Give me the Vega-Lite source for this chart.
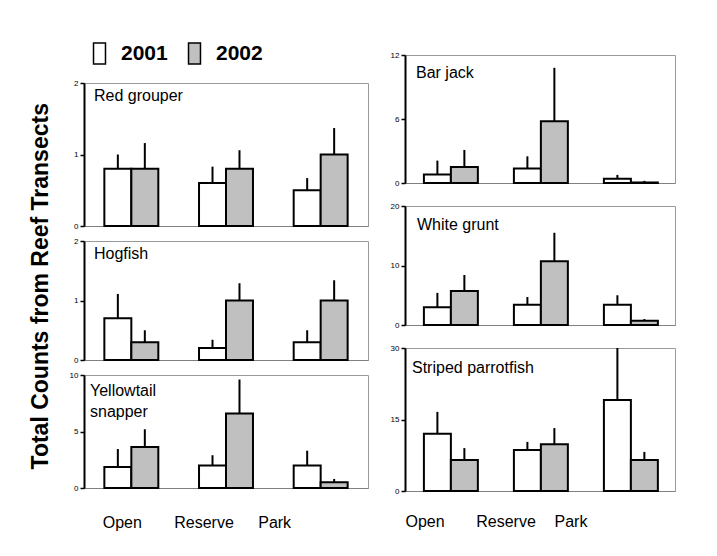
{
  "$schema": "https://vega.github.io/schema/vega-lite/v6.json",
  "background": "white",
  "padding": {"left": 29, "top": 42, "right": 20, "bottom": 20},
  "title": {"text": "Total Counts from Reef Transects", "orient": "left", "anchor": "middle", "frame": "bounds", "fontSize": 23, "fontWeight": "bold", "font": "Liberation Sans", "color": "black", "offset": -7, "baseline": "bottom"},
  "datasets": {
    "fish": [
      {"species": "Red grouper", "site": "Open", "year": "2001", "value": 0.8, "upper": 1.0},
      {"species": "Red grouper", "site": "Open", "year": "2002", "value": 0.8, "upper": 1.16},
      {"species": "Red grouper", "site": "Reserve", "year": "2001", "value": 0.6, "upper": 0.83},
      {"species": "Red grouper", "site": "Reserve", "year": "2002", "value": 0.8, "upper": 1.06},
      {"species": "Red grouper", "site": "Park", "year": "2001", "value": 0.5, "upper": 0.67},
      {"species": "Red grouper", "site": "Park", "year": "2002", "value": 1.0, "upper": 1.37},
      {"species": "Hogfish", "site": "Open", "year": "2001", "value": 0.7, "upper": 1.11},
      {"species": "Hogfish", "site": "Open", "year": "2002", "value": 0.3, "upper": 0.5},
      {"species": "Hogfish", "site": "Reserve", "year": "2001", "value": 0.2, "upper": 0.34},
      {"species": "Hogfish", "site": "Reserve", "year": "2002", "value": 1.0, "upper": 1.29},
      {"species": "Hogfish", "site": "Park", "year": "2001", "value": 0.3, "upper": 0.5},
      {"species": "Hogfish", "site": "Park", "year": "2002", "value": 1.0, "upper": 1.34},
      {"species": "Yellowtail snapper", "site": "Open", "year": "2001", "value": 1.86, "upper": 3.45},
      {"species": "Yellowtail snapper", "site": "Open", "year": "2002", "value": 3.63, "upper": 5.2},
      {"species": "Yellowtail snapper", "site": "Reserve", "year": "2001", "value": 2.0, "upper": 2.9},
      {"species": "Yellowtail snapper", "site": "Reserve", "year": "2002", "value": 6.6, "upper": 9.6},
      {"species": "Yellowtail snapper", "site": "Park", "year": "2001", "value": 2.0, "upper": 3.3},
      {"species": "Yellowtail snapper", "site": "Park", "year": "2002", "value": 0.5, "upper": 0.8},
      {"species": "Bar jack", "site": "Open", "year": "2001", "value": 0.8, "upper": 2.1},
      {"species": "Bar jack", "site": "Open", "year": "2002", "value": 1.5, "upper": 3.1},
      {"species": "Bar jack", "site": "Reserve", "year": "2001", "value": 1.35, "upper": 2.5},
      {"species": "Bar jack", "site": "Reserve", "year": "2002", "value": 5.8, "upper": 10.8},
      {"species": "Bar jack", "site": "Park", "year": "2001", "value": 0.4, "upper": 0.76},
      {"species": "Bar jack", "site": "Park", "year": "2002", "value": 0.05, "upper": 0.2},
      {"species": "White grunt", "site": "Open", "year": "2001", "value": 3.0, "upper": 5.4},
      {"species": "White grunt", "site": "Open", "year": "2002", "value": 5.7, "upper": 8.4},
      {"species": "White grunt", "site": "Reserve", "year": "2001", "value": 3.4, "upper": 4.7},
      {"species": "White grunt", "site": "Reserve", "year": "2002", "value": 10.7, "upper": 15.5},
      {"species": "White grunt", "site": "Park", "year": "2001", "value": 3.4, "upper": 5.0},
      {"species": "White grunt", "site": "Park", "year": "2002", "value": 0.7, "upper": 1.0},
      {"species": "Striped parrotfish", "site": "Open", "year": "2001", "value": 12.0, "upper": 16.6},
      {"species": "Striped parrotfish", "site": "Open", "year": "2002", "value": 6.5, "upper": 9.0},
      {"species": "Striped parrotfish", "site": "Reserve", "year": "2001", "value": 8.6, "upper": 10.3},
      {"species": "Striped parrotfish", "site": "Reserve", "year": "2002", "value": 9.8, "upper": 13.2},
      {"species": "Striped parrotfish", "site": "Park", "year": "2001", "value": 19.1, "upper": 30},
      {"species": "Striped parrotfish", "site": "Park", "year": "2002", "value": 6.5, "upper": 8.2}
    ]
  },
  "spacing": 20,
  "hconcat": [
    {
      "bounds": "flush",
      "spacing": 15,
      "vconcat": [
        {"width": 284, "height": 13, "view": {"stroke": null}, "data": {"values": []}, "mark": "point"},
        {
          "width": 284, "height": 143,
          "title": {"text": "Red grouper", "dx": 10, "offset": -25},
          "data": {"name": "fish"},
          "transform": [{"filter": "datum.species === 'Red grouper'"}],
          "encoding": {
            "x": {"field": "site", "type": "nominal", "sort": ["Open", "Reserve", "Park"], "scale": {"paddingInner": 0.43, "paddingOuter": 0.215}, "axis": {"labels": false, "ticks": false, "title": null}},
            "xOffset": {"field": "year", "type": "nominal", "sort": ["2001", "2002"]}
          },
          "layer": [
            {"mark": {"type": "bar", "stroke": "black", "strokeWidth": 2},
             "encoding": {"y": {"field": "value", "type": "quantitative", "scale": {"domain": [0, 2], "nice": false}, "axis": {"values": [0, 1, 2]}},
                          "fill": {"field": "year", "type": "nominal", "scale": {"domain": ["2001", "2002"], "range": ["#ffffff", "#c0c0c0"]}}}},
            {"mark": {"type": "rule", "stroke": "black", "strokeWidth": 2},
             "encoding": {"y": {"field": "value", "type": "quantitative"}, "y2": {"field": "upper"}}}
          ]
        },
        {
          "width": 284, "height": 119,
          "title": {"text": "Hogfish", "dx": 10, "offset": -25},
          "data": {"name": "fish"},
          "transform": [{"filter": "datum.species === 'Hogfish'"}],
          "encoding": {
            "x": {"field": "site", "type": "nominal", "sort": ["Open", "Reserve", "Park"], "scale": {"paddingInner": 0.43, "paddingOuter": 0.215}, "axis": {"labels": false, "ticks": false, "title": null}},
            "xOffset": {"field": "year", "type": "nominal", "sort": ["2001", "2002"]}
          },
          "layer": [
            {"mark": {"type": "bar", "stroke": "black", "strokeWidth": 2},
             "encoding": {"y": {"field": "value", "type": "quantitative", "scale": {"domain": [0, 2], "nice": false}, "axis": {"values": [0, 1, 2]}},
                          "fill": {"field": "year", "type": "nominal", "scale": {"domain": ["2001", "2002"], "range": ["#ffffff", "#c0c0c0"]}}}},
            {"mark": {"type": "rule", "stroke": "black", "strokeWidth": 2},
             "encoding": {"y": {"field": "value", "type": "quantitative"}, "y2": {"field": "upper"}}}
          ]
        },
        {
          "width": 284, "height": 113,
          "title": {"text": ["Yellowtail", "snapper"], "dx": 6, "offset": -49, "lineHeight": 21},
          "data": {"name": "fish"},
          "transform": [{"filter": "datum.species === 'Yellowtail snapper'"}],
          "encoding": {
            "x": {"field": "site", "type": "nominal", "sort": ["Open", "Reserve", "Park"], "scale": {"paddingInner": 0.43, "paddingOuter": 0.215},
                  "axis": {"labels": true, "ticks": false, "title": null, "labelFontSize": 16, "labelColor": "black", "labelPadding": 26, "labelAngle": 0,
                           "labelOffset": {"condition": [{"test": "datum.value === 'Open'", "value": -9}, {"test": "datum.value === 'Reserve'", "value": -22}], "value": -46}}},
            "xOffset": {"field": "year", "type": "nominal", "sort": ["2001", "2002"]}
          },
          "layer": [
            {"mark": {"type": "bar", "stroke": "black", "strokeWidth": 2},
             "encoding": {"y": {"field": "value", "type": "quantitative", "scale": {"domain": [0, 10], "nice": false}, "axis": {"values": [0, 5, 10]}},
                          "fill": {"field": "year", "type": "nominal", "scale": {"domain": ["2001", "2002"], "range": ["#ffffff", "#c0c0c0"]}}}},
            {"mark": {"type": "rule", "stroke": "black", "strokeWidth": 2},
             "encoding": {"y": {"field": "value", "type": "quantitative"}, "y2": {"field": "upper"}}}
          ]
        }
      ]
    },
    {
      "bounds": "flush",
      "spacing": 23,
      "vconcat": [
        {
          "width": 270, "height": 128,
          "title": {"text": "Bar jack", "dx": 11, "offset": -30},
          "data": {"name": "fish"},
          "transform": [{"filter": "datum.species === 'Bar jack'"}],
          "encoding": {
            "x": {"field": "site", "type": "nominal", "sort": ["Open", "Reserve", "Park"], "scale": {"paddingInner": 0.42, "paddingOuter": 0.21}, "axis": {"labels": false, "ticks": false, "title": null}},
            "xOffset": {"field": "year", "type": "nominal", "sort": ["2001", "2002"]}
          },
          "layer": [
            {"mark": {"type": "bar", "stroke": "black", "strokeWidth": 2},
             "encoding": {"y": {"field": "value", "type": "quantitative", "scale": {"domain": [0, 12], "nice": false}, "axis": {"values": [0, 6, 12]}},
                          "fill": {"field": "year", "type": "nominal", "scale": {"domain": ["2001", "2002"], "range": ["#ffffff", "#c0c0c0"]}}}},
            {"mark": {"type": "rule", "stroke": "black", "strokeWidth": 2},
             "encoding": {"y": {"field": "value", "type": "quantitative"}, "y2": {"field": "upper"}}}
          ]
        },
        {
          "width": 270, "height": 119,
          "title": {"text": "White grunt", "dx": 12, "offset": -31},
          "data": {"name": "fish"},
          "transform": [{"filter": "datum.species === 'White grunt'"}],
          "encoding": {
            "x": {"field": "site", "type": "nominal", "sort": ["Open", "Reserve", "Park"], "scale": {"paddingInner": 0.42, "paddingOuter": 0.21}, "axis": {"labels": false, "ticks": false, "title": null}},
            "xOffset": {"field": "year", "type": "nominal", "sort": ["2001", "2002"]}
          },
          "layer": [
            {"mark": {"type": "bar", "stroke": "black", "strokeWidth": 2},
             "encoding": {"y": {"field": "value", "type": "quantitative", "scale": {"domain": [0, 20], "nice": false}, "axis": {"values": [0, 10, 20]}},
                          "fill": {"field": "year", "type": "nominal", "scale": {"domain": ["2001", "2002"], "range": ["#ffffff", "#c0c0c0"]}}}},
            {"mark": {"type": "rule", "stroke": "black", "strokeWidth": 2},
             "encoding": {"y": {"field": "value", "type": "quantitative"}, "y2": {"field": "upper"}}}
          ]
        },
        {
          "width": 270, "height": 143,
          "title": {"text": "Striped parrotfish", "dx": 7, "offset": -32},
          "data": {"name": "fish"},
          "transform": [{"filter": "datum.species === 'Striped parrotfish'"}],
          "encoding": {
            "x": {"field": "site", "type": "nominal", "sort": ["Open", "Reserve", "Park"], "scale": {"paddingInner": 0.42, "paddingOuter": 0.21},
                  "axis": {"labels": true, "ticks": false, "title": null, "labelFontSize": 16, "labelColor": "black", "labelPadding": 22, "labelAngle": 0,
                           "labelOffset": {"condition": [{"test": "datum.value === 'Open'", "value": -25}, {"test": "datum.value === 'Reserve'", "value": -34}], "value": -59}}},
            "xOffset": {"field": "year", "type": "nominal", "sort": ["2001", "2002"]}
          },
          "layer": [
            {"mark": {"type": "bar", "stroke": "black", "strokeWidth": 2},
             "encoding": {"y": {"field": "value", "type": "quantitative", "scale": {"domain": [0, 30], "nice": false}, "axis": {"values": [0, 15, 30]}},
                          "fill": {"field": "year", "type": "nominal", "scale": {"domain": ["2001", "2002"], "range": ["#ffffff", "#c0c0c0"]}}}},
            {"mark": {"type": "rule", "stroke": "black", "strokeWidth": 2},
             "encoding": {"y": {"field": "value", "type": "quantitative"}, "y2": {"field": "upper"}}}
          ]
        }
      ]
    }
  ],
  "config": {
    "font": "Liberation Sans",
    "view": {"stroke": "#999999", "strokeWidth": 1},
    "axis": {"grid": false},
    "axisY": {"domainColor": "black", "domainWidth": 2, "tickColor": "black", "tickWidth": 1.5, "tickSize": 4, "labelFontSize": 8, "labelColor": "black", "labelPadding": 2, "title": null, "format": "d"},
    "axisX": {"domainColor": "#808080", "domainWidth": 1},
    "title": {"anchor": "start", "fontSize": 16, "fontWeight": "normal", "color": "black", "baseline": "alphabetic", "frame": "group"},
    "legend": {"orient": "none", "legendX": 4, "legendY": -13, "direction": "horizontal", "title": null,
               "symbolType": "M-0.57,-1H0.57V1H-0.57Z", "symbolSize": 441, "symbolStrokeColor": "black", "symbolStrokeWidth": 1.5,
               "labelFontSize": 21, "labelFontWeight": "bold", "labelColor": "black", "labelOffset": 10, "columnPadding": 15}
  }
}
